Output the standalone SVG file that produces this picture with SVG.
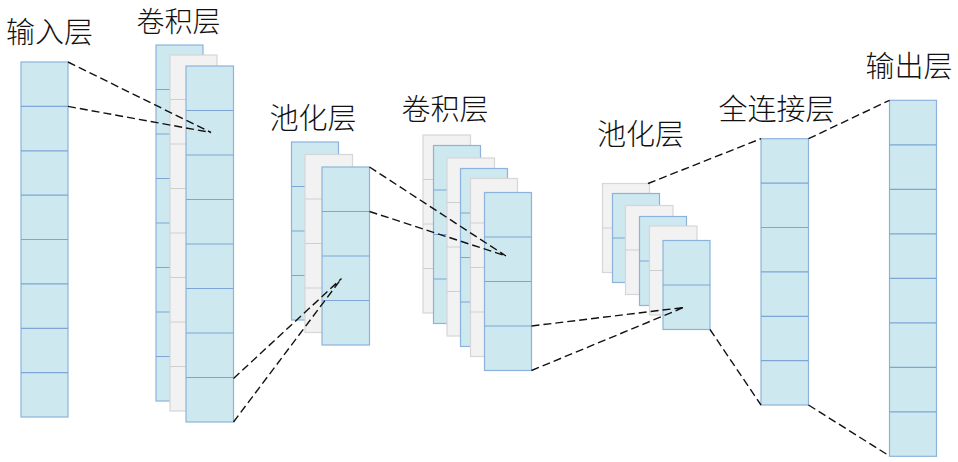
<svg xmlns="http://www.w3.org/2000/svg" width="958" height="462" viewBox="0 0 958 462">
<style>
.b{fill:#cde8ee;stroke:#8db3dd;stroke-width:1.2}
.g{fill:#f2f2f2;stroke:#d6d6d6;stroke-width:1.2}
.bd{stroke:#7da5d5;stroke-width:1.2;fill:none}
.gd{stroke:#cfcfcf;stroke-width:1.2;fill:none}
.lbl{font-family:"Noto Sans CJK SC","Noto Sans CJK JP",sans-serif;font-size:29px;font-weight:300;fill:#111;text-anchor:middle}
.c{stroke:#111;stroke-width:1.4;stroke-dasharray:8 4;fill:none}
</style>
<rect width="958" height="462" fill="#fff"/>
<g id="input">
<rect class="b" x="21" y="62" width="47" height="355"/>
<path class="bd" d="M21 106.4H68M21 150.8H68M21 195.1H68M21 239.5H68M21 283.9H68M21 328.3H68M21 372.6H68"/>
<text class="lbl" x="49.5" y="43">输入层</text>
</g>
<g id="conv1">
<rect class="b" x="156" y="45" width="47" height="356"/>
<path class="bd" d="M156 89.5H203M156 134H203M156 178.5H203M156 223H203M156 267.5H203M156 312H203M156 356.5H203"/>
<rect class="g" x="170" y="55" width="47" height="356"/>
<path class="gd" d="M170 99.5H217M170 144H217M170 188.5H217M170 233H217M170 277.5H217M170 322H217M170 366.5H217"/>
<rect class="b" x="186" y="66" width="47.5" height="356"/>
<path class="bd" d="M186 110.5H233.5M186 155H233.5M186 199.5H233.5M186 244H233.5M186 288.5H233.5M186 333H233.5M186 377.5H233.5"/>
<text class="lbl" x="178.5" y="32" style="font-size:28px">卷积层</text>
</g>
<g id="pool1">
<rect class="b" x="291.5" y="142" width="47" height="178"/>
<path class="bd" d="M291.5 186.5H338.5M291.5 231H338.5M291.5 275.5H338.5"/>
<rect class="g" x="305" y="154.5" width="47.5" height="178"/>
<path class="gd" d="M305 199H352.5M305 243.5H352.5M305 288H352.5"/>
<rect class="b" x="322" y="167" width="47.5" height="178"/>
<path class="bd" d="M322 211.5H369.5M322 256H369.5M322 300.5H369.5"/>
<text class="lbl" x="313" y="129">池化层</text>
</g>
<g id="conv2">
<rect class="g" x="423" y="135" width="47.5" height="178"/>
<path class="gd" d="M423 179.5H470.5M423 224H470.5M423 268.5H470.5"/>
<rect class="b" x="433.5" y="145.5" width="47" height="178"/>
<path class="bd" d="M433.5 190H480.5M433.5 234.5H480.5M433.5 279H480.5"/>
<rect class="g" x="447" y="158" width="47.5" height="178"/>
<path class="gd" d="M447 202.5H494.5M447 247H494.5M447 291.5H494.5"/>
<rect class="b" x="460.5" y="168.5" width="47" height="178"/>
<path class="bd" d="M460.5 213H507.5M460.5 257.5H507.5M460.5 302H507.5"/>
<rect class="g" x="470.5" y="178.5" width="47" height="178"/>
<path class="gd" d="M470.5 223H517.5M470.5 267.5H517.5M470.5 312H517.5"/>
<rect class="b" x="484.5" y="192.5" width="47" height="178"/>
<path class="bd" d="M484.5 237H531.5M484.5 281.5H531.5M484.5 326H531.5"/>
<text class="lbl" x="445" y="120">卷积层</text>
</g>
<g id="pool2">
<rect class="g" x="602.5" y="183.5" width="47" height="89"/>
<path class="gd" d="M602.5 228H649.5"/>
<rect class="b" x="612.5" y="193.5" width="47" height="89"/>
<path class="bd" d="M612.5 238H659.5"/>
<rect class="g" x="625.5" y="205.5" width="47.5" height="89"/>
<path class="gd" d="M625.5 250H673"/>
<rect class="b" x="639.5" y="216.5" width="47" height="89"/>
<path class="bd" d="M639.5 261H686.5"/>
<rect class="g" x="649.5" y="226" width="47.5" height="89"/>
<path class="gd" d="M649.5 270.5H697"/>
<rect class="b" x="663" y="240.5" width="47" height="89"/>
<path class="bd" d="M663 285H710"/>
<text class="lbl" x="640.5" y="145">池化层</text>
</g>
<g id="fc">
<rect class="b" x="761" y="138.7" width="47.5" height="266.3"/>
<path class="bd" d="M761 183.1H808.5M761 227.5H808.5M761 271.9H808.5M761 316.3H808.5M761 360.7H808.5"/>
<text class="lbl" x="776.5" y="120">全连接层</text>
</g>
<g id="output">
<rect class="b" x="889.5" y="100.3" width="47" height="356"/>
<path class="bd" d="M889.5 144.8H936.5M889.5 189.3H936.5M889.5 233.8H936.5M889.5 278.3H936.5M889.5 322.8H936.5M889.5 367.3H936.5M889.5 411.8H936.5"/>
<text class="lbl" x="909" y="77">输出层</text>
</g>
<g id="connectors">
<path class="c" d="M68 62L211 132.5M68 106.4L211 132.5"/>
<path class="c" d="M233.5 378.5L341.5 278.5M233.5 422L341.5 278.5"/>
<path class="c" d="M369.5 167L506 256M369.5 211.5L506 256"/>
<path class="c" d="M531.5 326L683.5 307.5M531.5 370.5L683.5 307.5"/>
<path class="c" d="M648 183.5L761 138.7M808.5 138.7L889.5 100.3"/>
<path class="c" d="M710 329.5L761 405M808.5 405L889.5 456"/>
</g>
</svg>
